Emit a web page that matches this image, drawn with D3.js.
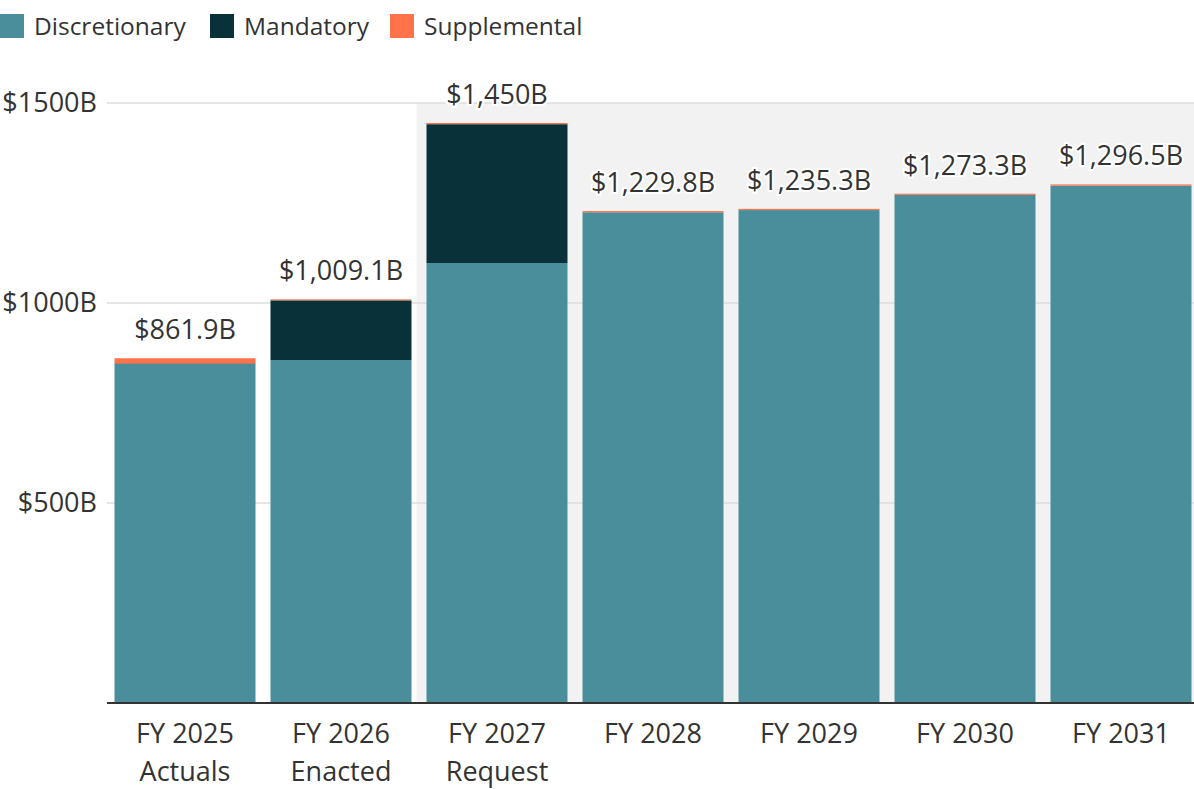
<!DOCTYPE html>
<html>
<head>
<meta charset="utf-8">
<script src="https://cdn.jsdelivr.net/npm/d3@7"></script>
<style>
  body { margin: 0; background: #fff; font-family: "Open Sans", Roboto, sans-serif; }
  svg text { fill: #333; }
</style>
</head>
<body>
<div id="chart"></div>
<script>
// fiscal years and sub-labels
const years = ['FY 2025', 'FY 2026', 'FY 2027', 'FY 2028', 'FY 2029', 'FY 2030', 'FY 2031'];
const subLabels = ['Actuals', 'Enacted', 'Request', '', '', '', ''];

// $B values
const discretionary = [847.5, 857.5, 1100.0, 1226.8, 1232.3, 1270.3, 1293.5];
const mandatory = [1.4, 149.1, 347.0, 0, 0, 0, 0];
const supplemental = [13.0, 2.5, 3.0, 3.0, 3.0, 3.0, 3.0];

const yTicks = [500, 1000, 1500];
const seriesNames = ['Discretionary', 'Mandatory', 'Supplemental'];
const colors = ['#4a8e9b', '#08313a', '#ff724a'];

const width = 1194, height = 789;
const margin = { top: 103, right: 0, bottom: 86, left: 107 };

const svg = d3.select('#chart').append('svg')
    .attr('width', width)
    .attr('height', height);

const rows = years.map((y, i) => ({
    year: y,
    sub: subLabels[i],
    Discretionary: discretionary[i],
    Mandatory: mandatory[i],
    Supplemental: supplemental[i]
}));

const x = d3.scaleBand()
    .domain(years)
    .range([margin.left, margin.left + 7 * 156])
    .paddingInner(15 / 156)
    .paddingOuter(7.5 / 156);

const y = d3.scaleLinear()
    .domain([0, 1500])
    .range([height - margin.bottom, margin.top]);

// shaded projection area (request onwards)
svg.append('rect')
    .attr('x', x('FY 2027') - 10)
    .attr('y', y(1500))
    .attr('width', width - (x('FY 2027') - 10))
    .attr('height', y(0) - y(1500))
    .attr('fill', '#f2f2f2');

// gridlines
svg.append('g').selectAll('line')
    .data(yTicks)
    .enter()
    .append('line')
    .attr('x1', margin.left)
    .attr('x2', width)
    .attr('y1', d => y(d))
    .attr('y2', d => y(d))
    .attr('stroke', '#dcdcdc')
    .attr('stroke-width', 1.5);

svg.append('g').selectAll('text')
    .data(yTicks)
    .enter()
    .append('text')
    .attr('x', 97)
    .attr('y', d => y(d))
    .attr('dy', '0.35em')
    .attr('text-anchor', 'end')
    .attr('font-size', '27px')
    .text(d => `$${d}B`);

// stacked bars
const stack = d3.stack().keys(seriesNames)(rows);

svg.append('g').selectAll('g')
    .data(stack)
    .enter()
    .append('g')
    .attr('fill', (d, i) => colors[i])
    .selectAll('rect')
    .data(d => d)
    .enter()
    .append('rect')
    .attr('x', d => x(d.data.year))
    .attr('width', x.bandwidth())
    .attr('y', d => y(d[1]))
    .attr('height', d => Math.max(0, y(d[0]) - y(d[1])));

// baseline
svg.append('line')
    .attr('x1', margin.left)
    .attr('x2', width)
    .attr('y1', y(0))
    .attr('y2', y(0))
    .attr('stroke', '#333')
    .attr('stroke-width', 2);

// total labels
const fmt = v => {
    const s = d3.format(',.1f')(v);
    return '$' + (s.endsWith('.0') ? s.slice(0, -2) : s) + 'B';
};

svg.append('g').selectAll('text')
    .data(rows)
    .enter()
    .append('text')
    .attr('x', d => x(d.year) + x.bandwidth() / 2)
    .attr('y', d => y(d.Discretionary + d.Mandatory + d.Supplemental) - 19)
    .attr('text-anchor', 'middle')
    .attr('font-size', '27px')
    .attr('stroke', '#fff')
    .attr('stroke-width', 4)
    .attr('paint-order', 'stroke')
    .text(d => fmt(d.Discretionary + d.Mandatory + d.Supplemental));

// x labels
const xl = svg.append('g').selectAll('text')
    .data(rows)
    .enter()
    .append('text')
    .attr('x', d => x(d.year) + x.bandwidth() / 2)
    .attr('y', 743)
    .attr('text-anchor', 'middle')
    .attr('font-size', '27px');
xl.append('tspan').text(d => d.year);
xl.append('tspan')
    .attr('x', d => x(d.year) + x.bandwidth() / 2)
    .attr('dy', 38)
    .text(d => d.sub);

// legend
const legendX = [0, 210, 390];
const legend = svg.append('g').selectAll('g')
    .data(seriesNames)
    .enter()
    .append('g')
    .attr('transform', (d, i) => `translate(${legendX[i]}, 14)`);
legend.append('rect')
    .attr('width', 24)
    .attr('height', 24)
    .attr('fill', (d, i) => colors[i]);
legend.append('text')
    .attr('x', 34)
    .attr('y', 12)
    .attr('dy', '0.35em')
    .attr('font-size', '24.5px')
    .text(d => d);
</script>
</body>
</html>
